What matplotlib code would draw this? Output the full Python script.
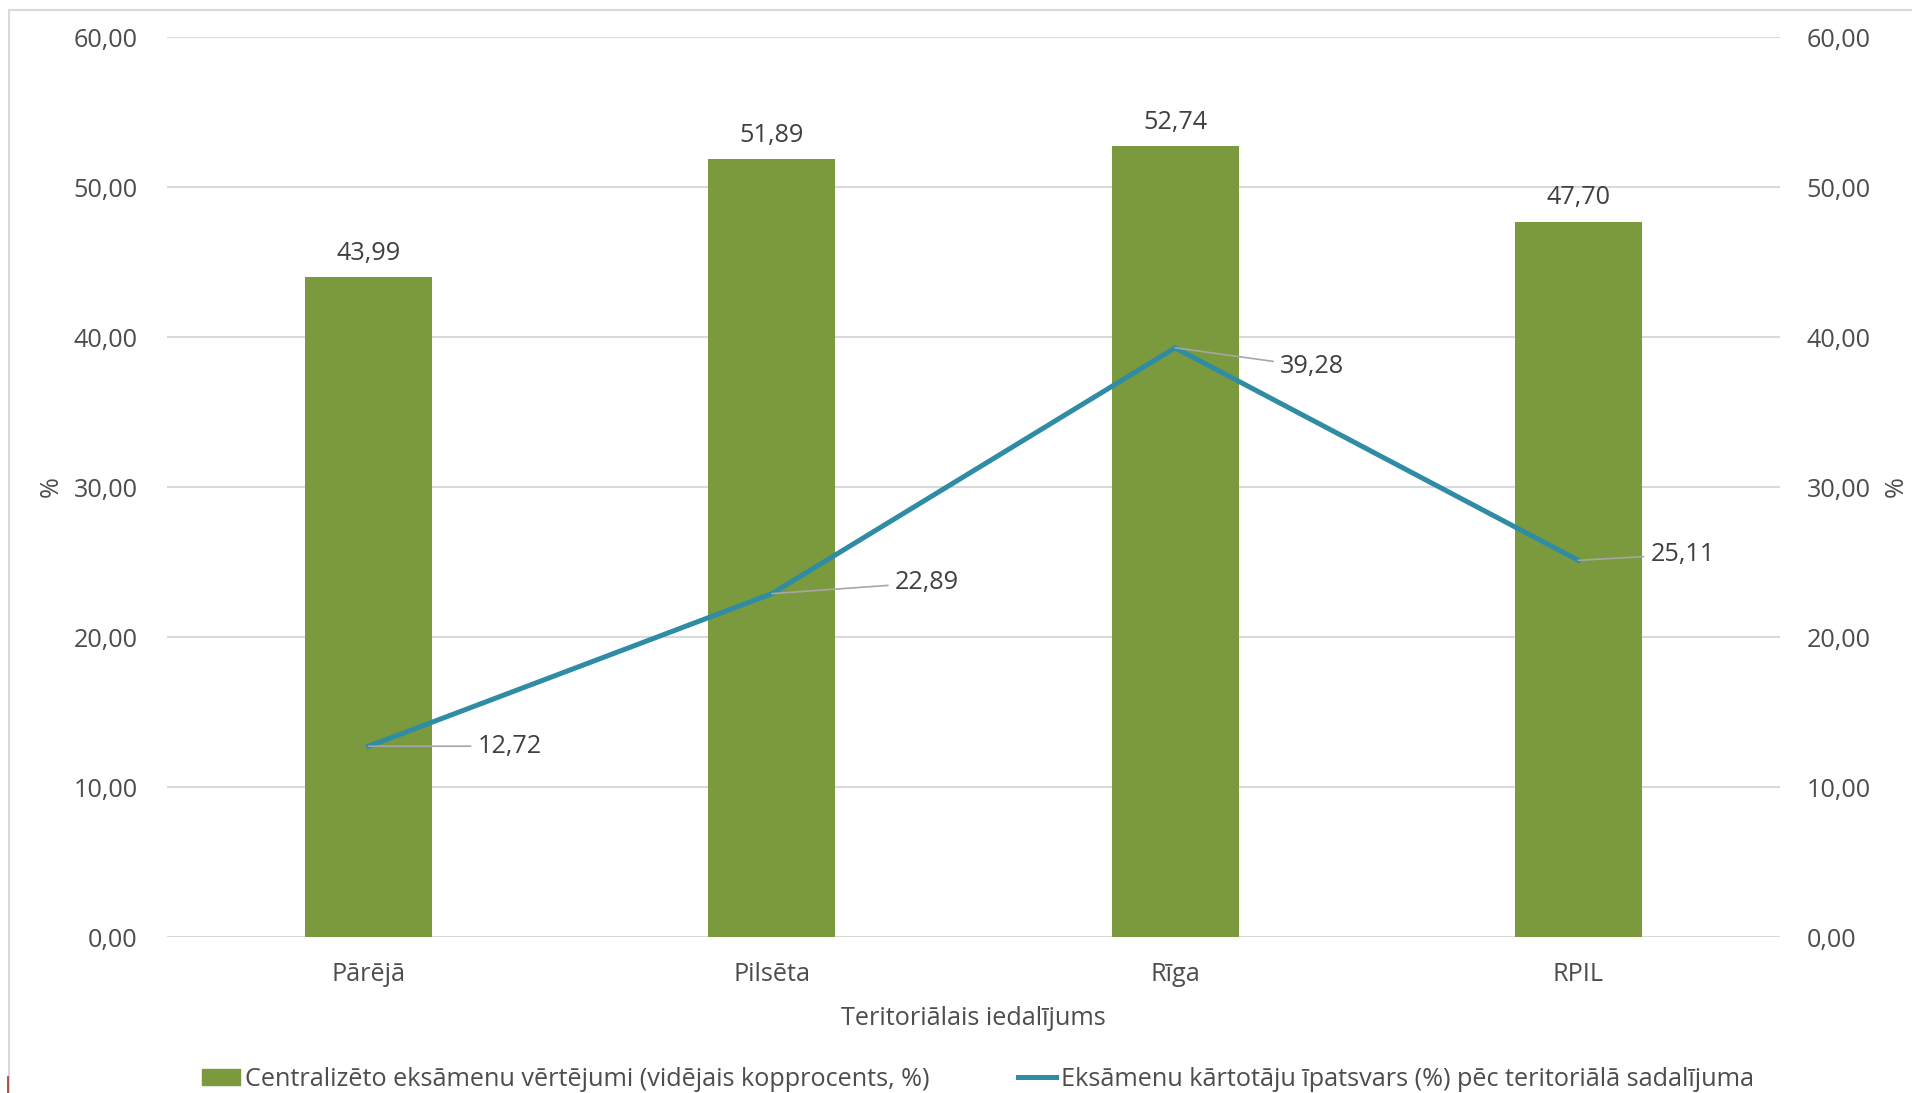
import numpy as np
import matplotlib
matplotlib.use("Agg")
import matplotlib.pyplot as plt
from matplotlib.patches import Rectangle
from matplotlib.lines import Line2D

plt.rcParams.update({'font.family': ['Open Sans', 'DejaVu Sans'], 'font.size': 18.2,
                     'text.color': '#4d4d4d', 'axes.labelcolor': '#4d4d4d',
                     'xtick.color': '#4d4d4d', 'ytick.color': '#4d4d4d'})

categories = ['Pārējā', 'Pilsēta', 'Rīga', 'RPIL']
scores = [43.99, 51.89, 52.74, 47.70]
shares = [12.72, 22.89, 39.28, 25.11]
yticks = [0, 10, 20, 30, 40, 50, 60]
bar_name = 'Centralizēto eksāmenu vērtējumi (vidējais kopprocents, %)'
line_name = 'Eksāmenu kārtotāju īpatsvars (%) pēc teritoriālā sadalījuma'
# label offsets in pixels for line labels (style)
line_lab_off = [(109, 0), (123, 11), (105, -19), (72, 6)]

GREEN = '#7a9a3d'; TEAL = '#2f8ca4'; GRID = '#d9d9d9'
def fmt(v): return f'{v:.2f}'.replace('.', ',')

W, H = 1912, 1093
fig = plt.figure(figsize=(W/100, H/100), dpi=100, facecolor='white')
ax = fig.add_axes([167/W, 1-937/H, (1780-167)/W, (937-37)/H])
x = np.arange(len(categories))
bars = ax.bar(x, scores, width=0.315, color=GREEN, zorder=2)
ax.bar_label(bars, labels=[fmt(v) for v in scores], padding=8, color='#404040')
ax.set_xlim(-0.5, len(categories)-0.5); ax.set_ylim(0, 60)
ax.set_yticks(yticks); ax.set_yticklabels([fmt(v) for v in yticks])
ax.set_xticks(x); ax.set_xticklabels(categories)
ax.grid(True, axis='y', color=GRID, lw=1.5, zorder=0); ax.set_axisbelow(True)
for s in ax.spines.values(): s.set_visible(False)
ax.tick_params(axis='y', length=0, pad=21)
ax.tick_params(axis='x', length=0, pad=18)
ax.set_xlabel('Teritoriālais iedalījums', labelpad=14)

ax2 = ax.twinx()
ax2.set_ylim(0, 60); ax2.set_yticks(yticks); ax2.set_yticklabels([fmt(v) for v in yticks])
for s in ax2.spines.values(): s.set_visible(False)
ax2.tick_params(axis='y', length=0, pad=19)
ax2.plot(x, shares, color=TEAL, lw=3.6, zorder=3, solid_joinstyle='miter')
for xi, v, (dx, dy) in zip(x, shares, line_lab_off):
    ax2.annotate(fmt(v), xy=(xi, v), xytext=(dx, dy), textcoords='offset pixels',
                 ha='left', va='center', color='#404040',
                 arrowprops=dict(arrowstyle='-', color='#a6a6a6', lw=1.2, shrinkA=3, shrinkB=0))

fig.text(51/W, 1-487/H, '%', rotation=90, ha='center', va='center')
fig.text(1896/W, 1-487/H, '%', rotation=90, ha='center', va='center')

handles = [Rectangle((0, 0), 1, 1, color=GREEN), Line2D([], [], color=TEAL, lw=3.6)]
fig.legend(handles, [bar_name, line_name], loc='center', bbox_to_anchor=(978/W, 1-1079/H),
           ncol=2, frameon=False, handlelength=1.5, handleheight=0.6, handletextpad=0.2,
           columnspacing=3.5)

fig.add_artist(Rectangle((9/W, -0.05), 1.1, 1-10/H+0.05, transform=fig.transFigure,
                         fill=False, edgecolor='#d9d9d9', lw=1.5))
fig.add_artist(Line2D([8/W, 8/W], [0, 16/H], color='#a0392a', lw=1.2))
fig.savefig('out.png', dpi=100, facecolor='white')
